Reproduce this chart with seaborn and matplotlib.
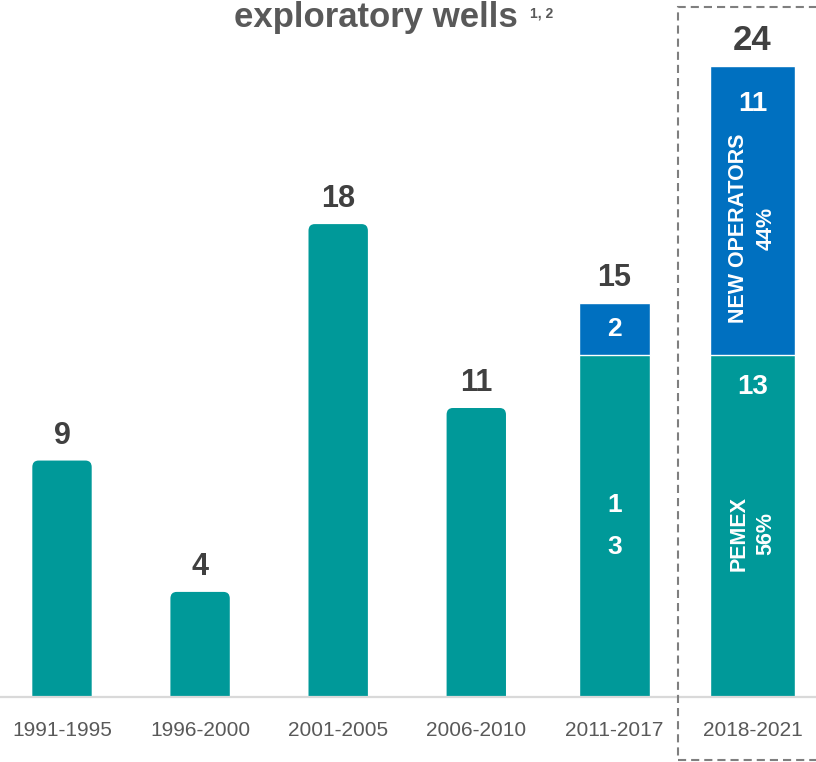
import pandas as pd
import matplotlib.pyplot as plt
import seaborn as sns
from matplotlib.patches import FancyBboxPatch, Rectangle

# data
periods = ['1991-1995', '1996-2000', '2001-2005', '2006-2010', '2011-2017', '2018-2021']
pemex = [9, 4, 18, 11, 13, 13]
new_ops = [0, 0, 0, 0, 2, 11]
pemex_labels = ['', '', '', '', '1\n3', '13']
share_labels = {'2018-2021': ('PEMEX\n56%', 'NEW OPERATORS\n44%')}

df = pd.DataFrame({'period': periods, 'pemex': pemex, 'new_ops': new_ops})
df['total'] = df['pemex'] + df['new_ops']

teal = '#009999'
blue = '#0070C0'
dark = '#404040'
grey = '#595959'

sns.set_theme(style='white')
plt.rcParams['font.family'] = ['Liberation Sans', 'DejaVu Sans']

fig = plt.figure(figsize=(8.16, 7.62), dpi=100)
ax = fig.add_axes([0, 65 / 762, 1, 697 / 762])

# stacked bars: total (blue) behind, pemex (teal) in front
sns.barplot(data=df[df['new_ops'] > 0], x='period', y='total', order=periods,
            color=blue, saturation=1, width=0.5, ax=ax)
sns.barplot(data=df, x='period', y='pemex', order=periods,
            color=teal, saturation=1, width=0.5, ax=ax)

widths = {'2011-2017': 0.51, '2018-2021': 0.61}
base_w = 0.43
blue_bars = list(ax.containers[0])
teal_bars = list(ax.containers[1])

blue_periods = [p for p in periods if df.set_index('period').loc[p, 'new_ops'] > 0]
for bar, p in zip(blue_bars, blue_periods):
    c = periods.index(p)
    w = widths.get(p, base_w)
    bar.set_x(c - w / 2)
    bar.set_width(w)

for c, (bar, p) in enumerate(zip(teal_bars, periods)):
    w = widths.get(p, base_w)
    if p in widths:
        bar.set_x(c - w / 2)
        bar.set_width(w)
    else:
        # rounded top corners for the plain bars
        h = bar.get_height()
        bar.set_visible(False)
        rnd = FancyBboxPatch((c - w / 2, -1), w, h + 1,
                             boxstyle='round,pad=0,rounding_size=0.045',
                             mutation_aspect=5.6, facecolor=teal,
                             edgecolor='none', zorder=2)
        ax.add_patch(rnd)

ax.set_xlim(-0.449, 5.46)
ax.set_ylim(0, 26.53)
ax.axhline(0, color='#d9d9d9', lw=1.6, zorder=5, clip_on=False)

# total labels
for c, row in df.iterrows():
    size = 25 if row['total'] == df['total'].max() else 22
    ax.annotate(str(row['total']), (c, row['total']), xytext=(0, 7),
                textcoords='offset points', ha='center', va='bottom',
                fontsize=size, fontweight='bold', color=dark)

# labels inside segments
for c, row in df.iterrows():
    if row['new_ops'] > 0 and row['period'] not in share_labels:
        ax.text(c, row['pemex'] + row['new_ops'] / 2, str(row['new_ops']),
                ha='center', va='center', fontsize=19, fontweight='bold', color='white')
        ax.text(c, row['pemex'] * 0.5, pemex_labels[c], ha='center', va='center',
                fontsize=19, fontweight='bold', color='white', linespacing=1.95)
    elif row['period'] in share_labels:
        lo, hi = share_labels[row['period']]
        ax.annotate(str(row['new_ops']), (c, row['total']), xytext=(0, -18),
                    textcoords='offset points', ha='center', va='top',
                    fontsize=20, fontweight='bold', color='white')
        ax.annotate(pemex_labels[c], (c, row['pemex']), xytext=(0, -13),
                    textcoords='offset points', ha='center', va='top',
                    fontsize=20, fontweight='bold', color='white')
        ax.text(c, row['pemex'] + row['new_ops'] * 0.44, hi, rotation=90,
                ha='center', va='center', multialignment='center',
                fontsize=15.5, fontweight='bold', color='white', linespacing=1.4)
        ax.text(c, row['pemex'] * 0.48, lo, rotation=90,
                ha='center', va='center', multialignment='center',
                fontsize=15.5, fontweight='bold', color='white', linespacing=1.4)

ax.set_xlabel('')
ax.set_ylabel('')
ax.set_yticks([])
ax.tick_params(axis='x', length=0, pad=17, labelsize=15, labelcolor=grey)
for s in ax.spines.values():
    s.set_visible(False)

# title, kept just inside the top edge
fig.text(376 / 816, 1 - 27 / 762, 'exploratory wells', ha='center', va='baseline',
         fontsize=25, fontweight='bold', color=grey)
fig.text(530 / 816, 1 - 18 / 762, '1, 2', ha='left', va='baseline',
         fontsize=10, fontweight='bold', color=grey)

# dashed box around the latest period
fig.patches.append(Rectangle((678 / 816, 2 / 762), 0.3, 753 / 762,
                             transform=fig.transFigure, fill=False,
                             edgecolor='#7f7f7f', lw=1.5, ls=(0, (3.9, 2.4)),
                             zorder=10))

fig.savefig('out.png', dpi=100)
